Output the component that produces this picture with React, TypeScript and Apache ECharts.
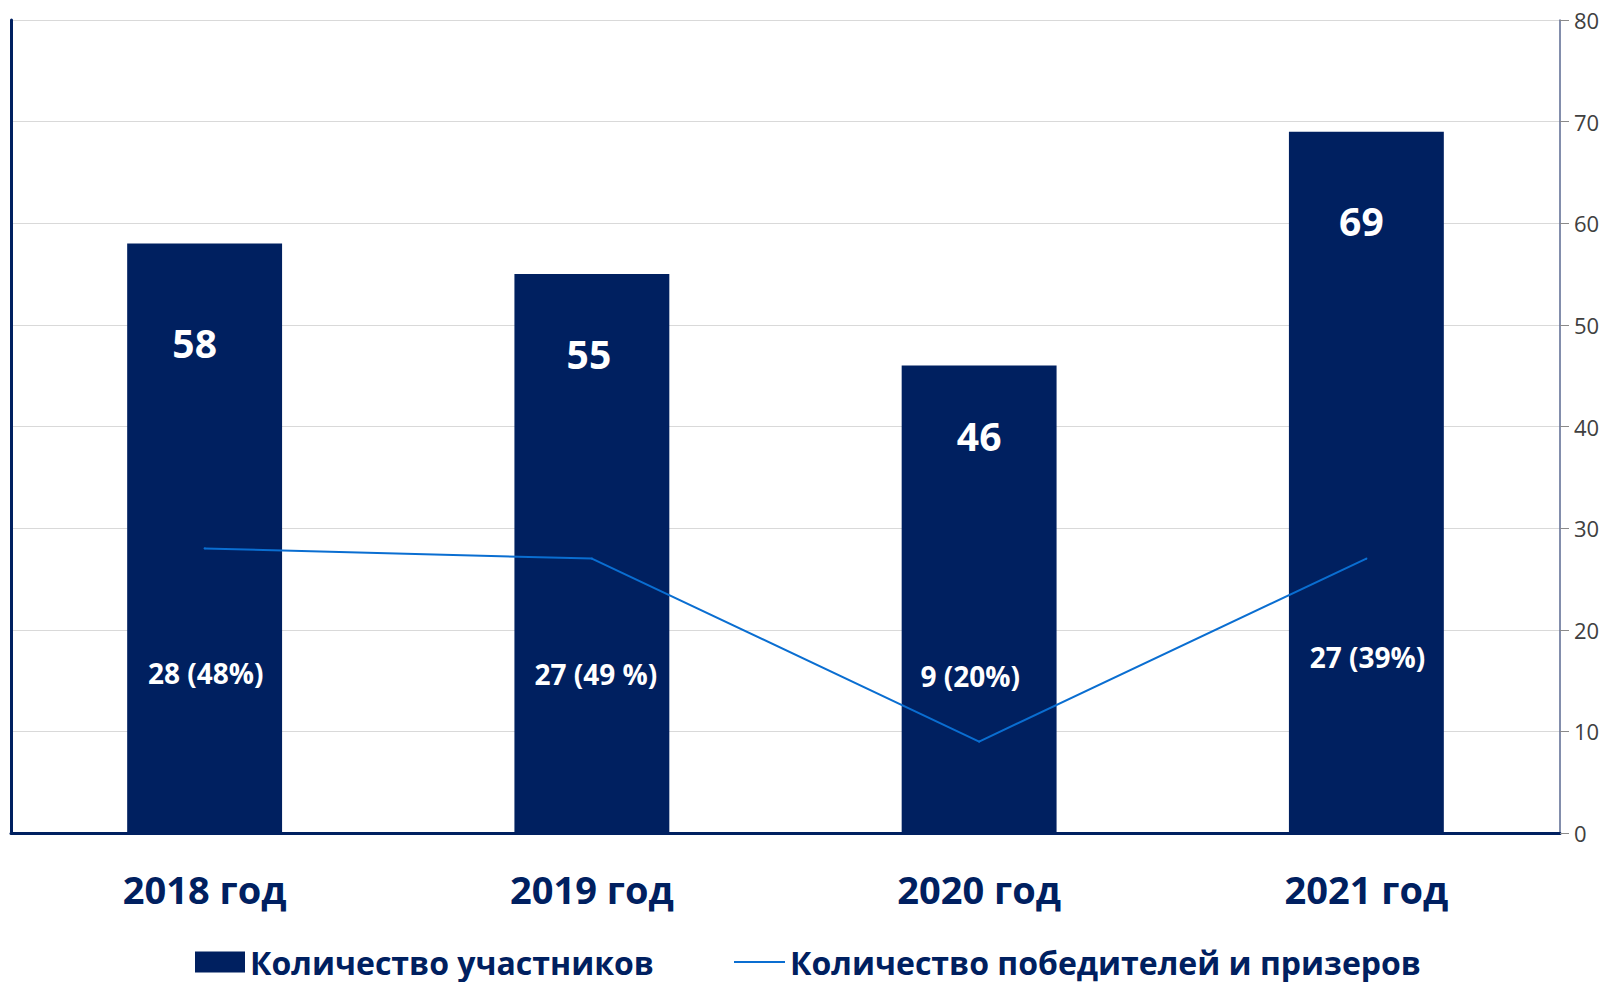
import React, { useEffect, useRef } from "react";
import * as echarts from "echarts";

const categories = ["2018 год", "2019 год", "2020 год", "2021 год"];
const participants = [58, 55, 46, 69];
const winners = [28, 27, 9, 27];
const winnerShares = ["48%", "49 %", "20%", "39%"];
const axisMin = 0;
const axisMax = 80;
const axisStep = 10;

const seriesNames = ["Количество участников", "Количество победителей и призеров"];

// label placement (pixels), kept apart from the values
const participantLabelShift = [
  [-10, 99],
  [-3, 79],
  [0, 70],
  [-5, 89],
];
const winnerLabelShift = [
  [1, 125],
  [4, 115],
  [-9, -66],
  [1, 98],
];

const NAVY = "#002060";
const BLUE = "#0a6ed1";
const AXIS = "#5a6890";
const FONT = "'Open Sans', 'Noto Sans', sans-serif";

export default function App() {
  const ref = useRef<HTMLDivElement>(null);

  useEffect(() => {
    if (!ref.current) return;
    const chart = echarts.init(ref.current, undefined, { renderer: "svg" });

    const barData = participants.map((v, i) => ({
      value: v,
      label: {
        position: ["50%", participantLabelShift[i][1]],
        offset: [participantLabelShift[i][0], 0],
      },
    }));
    const lineData = winners.map((v, i) => ({
      value: v,
      label: {
        offset: winnerLabelShift[i],
      },
    }));

    const legendText = { color: NAVY, fontSize: 32, fontWeight: "bold", fontFamily: FONT };

    chart.setOption({
      animation: false,
      backgroundColor: "#ffffff",
      textStyle: { fontFamily: FONT },
      grid: { left: 11, top: 20, right: 58, bottom: 149, containLabel: false },
      legend: [
        {
          data: [seriesNames[0]],
          top: 941,
          left: 190,
          icon: "rect",
          itemWidth: 50,
          itemHeight: 21,
          selectedMode: false,
          textStyle: legendText,
        },
        {
          data: [seriesNames[1]],
          top: 941,
          left: 729,
          icon: "rect",
          itemWidth: 51,
          itemHeight: 2,
          selectedMode: false,
          textStyle: legendText,
        },
      ],
      xAxis: [
        {
          type: "category",
          data: categories,
          position: "bottom",
          axisLine: { show: true, lineStyle: { color: AXIS, width: 1.5 } },
          axisTick: { show: false },
          axisLabel: {
            color: NAVY,
            fontSize: 38,
            fontWeight: "bold",
            fontFamily: FONT,
            margin: 37,
          },
        },
        {
          type: "category",
          data: categories,
          position: "top",
          axisLine: { show: true, lineStyle: { color: NAVY, width: 3 } },
          axisTick: { show: false },
          axisLabel: { show: false },
        },
      ],
      yAxis: [
        {
          type: "value",
          position: "right",
          min: axisMin,
          max: axisMax,
          interval: axisStep,
          axisLine: { show: true, lineStyle: { color: AXIS, width: 1.5 } },
          axisTick: { show: true, length: 9, lineStyle: { color: "#8a8a8a" } },
          axisLabel: { color: "#404040", fontSize: 22, margin: 14, fontFamily: FONT },
          splitLine: { show: true, lineStyle: { color: "#d9d9d9", width: 1 } },
        },
        {
          type: "value",
          position: "left",
          min: axisMin,
          max: axisMax,
          interval: axisStep,
          axisLine: { show: true, lineStyle: { color: NAVY, width: 3 } },
          axisTick: { show: false },
          axisLabel: { show: false },
          splitLine: { show: false },
        },
      ],
      series: [
        {
          name: seriesNames[0],
          type: "bar",
          xAxisIndex: 0,
          yAxisIndex: 0,
          data: barData,
          barWidth: "40%",
          itemStyle: { color: NAVY },
          label: {
            show: true,
            color: "#ffffff",
            fontSize: 39,
            fontWeight: "bold",
            fontFamily: FONT,
            align: "center",
            verticalAlign: "middle",
          },
        },
        {
          name: seriesNames[1],
          type: "line",
          xAxisIndex: 0,
          yAxisIndex: 0,
          data: lineData,
          symbol: "circle",
          symbolSize: 2,
          showSymbol: true,
          itemStyle: { color: BLUE },
          lineStyle: { color: BLUE, width: 2 },
          label: {
            show: true,
            position: "inside",
            color: "#ffffff",
            fontSize: 28,
            fontWeight: "bold",
            fontFamily: FONT,
            align: "center",
            verticalAlign: "middle",
            formatter: (p: any) => `${winners[p.dataIndex]} (${winnerShares[p.dataIndex]})`,
          },
          z: 5,
        },
      ],
    });

    return () => chart.dispose();
  }, []);

  return (
    <div
      ref={ref}
      style={{ position: "fixed", left: 0, top: 0, width: 1618, height: 982, background: "#fff" }}
    />
  );
}
